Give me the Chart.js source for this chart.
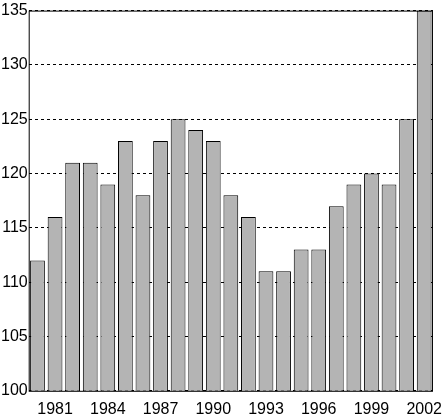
<!DOCTYPE html>
<html><head><meta charset="utf-8">
<script src="https://cdn.jsdelivr.net/npm/chart.js@4"></script>
<style>html,body{margin:0;padding:0;background:#fff}#wrap{width:443px;height:420px}</style>
</head><body><div id="wrap"><canvas id="c"></canvas></div>
<script>
const years = ['1980','1981','1982','1983','1984','1985','1986','1987','1988','1989','1990','1991','1992','1993','1994','1995','1996','1997','1998','1999','2000','2001','2002'];
const values = [112,116,121,121,119,123,118,123,125,124,123,118,116,111,111,113,113,117,119,120,119,125,135];
const yTicks = [100,105,110,115,120,125,130,135];

const borderBox = {
    id: 'borderBox',
    afterDraw(chart) {
        const a = chart.chartArea, ctx = chart.ctx;
        ctx.save();
        ctx.strokeStyle = '#000';
        ctx.lineWidth = 1;
        ctx.strokeRect(a.left + 0.5, a.top + 0.5, a.right - a.left - 1, a.bottom - a.top);
        ctx.restore();
    }
};

new Chart(document.getElementById('c'), {
    type: 'bar',
    data: {
        labels: years,
        datasets: [{
            data: values,
            backgroundColor: '#b4b4b4',
            borderColor: '#000',
            borderWidth: 1,
            categoryPercentage: 1,
            barPercentage: 0.84
        }]
    },
    options: {
        responsive: true,
        maintainAspectRatio: false,
        animation: false,
        layout: { padding: { top: -4, right: 1, left: 0, bottom: 0 } },
        plugins: { legend: { display: false }, tooltip: { enabled: false } },
        scales: {
            x: {
                grid: { display: false },
                border: { display: false },
                ticks: {
                    color: '#000', font: { family: 'Liberation Sans', size: 16 },
                    maxRotation: 0, autoSkip: false, padding: 1,
                    callback: (v, i) => (i % 3 === 1 ? years[i] : '')
                }
            },
            y: {
                min: 100, max: 135,
                afterBuildTicks: s => { s.ticks = yTicks.map(v => ({ value: v })); },
                grid: { color: '#000', borderDash: [3, 3], drawTicks: false },
                border: { display: false, dash: [3, 3] },
                ticks: { color: '#000', font: { family: 'Liberation Sans', size: 16 }, padding: 1 }
            }
        }
    },
    plugins: [borderBox]
});
</script></body></html>
